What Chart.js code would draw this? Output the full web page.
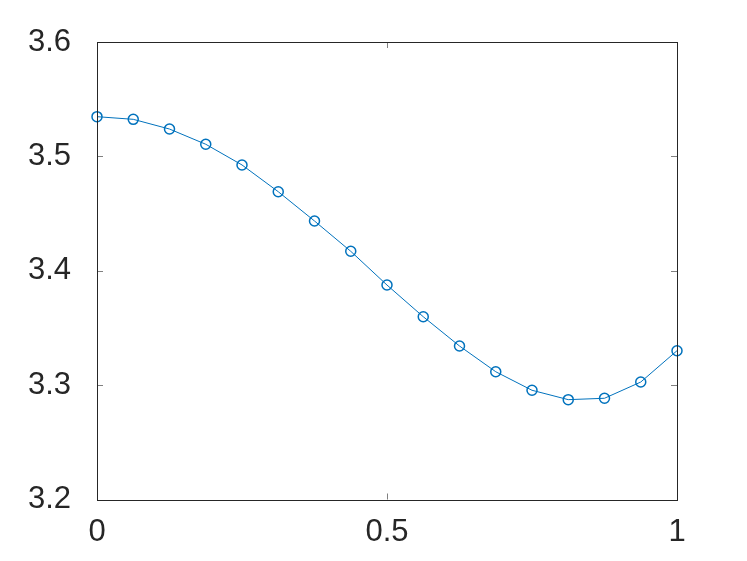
<!DOCTYPE html>
<html>
<head>
<meta charset="utf-8">
<script src="https://cdn.jsdelivr.net/npm/chart.js@4/dist/chart.umd.min.js"></script>
<style>
  html, body { margin: 0; padding: 0; background: #fff; }
  #wrap { width: 747px; height: 561px; }
</style>
</head>
<body>
<div id="wrap"><canvas id="chart" width="747" height="561"></canvas></div>
<script>
  /* datos: 17 puntos equiespaciados en [0, 1] */
  const xValues = [0, 0.0625, 0.125, 0.1875, 0.25, 0.3125, 0.375, 0.4375, 0.5,
                   0.5625, 0.625, 0.6875, 0.75, 0.8125, 0.875, 0.9375, 1];
  const yValues = [3.5347, 3.5324, 3.5239, 3.5106, 3.4925, 3.4691, 3.4435, 3.4170, 3.3875,
                   3.3598, 3.3342, 3.3117, 3.2955, 3.2873, 3.2885, 3.3027, 3.3301];
  const xTicks = [0, 0.5, 1];
  const yTicks = [3.2, 3.3, 3.4, 3.5, 3.6];

  const AXIS = '#262626';
  const BLUE = '#0072BD';
  const FONT = { family: "'Liberation Sans', Arial, sans-serif", size: 31 };

  /* Marco completo + ticks hacia dentro (estilo MATLAB) */
  const boxPlugin = {
    id: 'box',
    afterDraw(chart) {
      const { ctx, chartArea: a, scales: { x, y } } = chart;
      const tl = 6;
      ctx.save();
      ctx.lineWidth = 1;
      ctx.strokeStyle = '#808080';
      ctx.beginPath();
      xTicks.forEach(v => {
        const px = Math.round(x.getPixelForValue(v)) + 0.5;
        ctx.moveTo(px, a.bottom); ctx.lineTo(px, a.bottom - tl);
        ctx.moveTo(px, a.top);    ctx.lineTo(px, a.top + tl);
      });
      yTicks.forEach(v => {
        const py = Math.round(y.getPixelForValue(v)) + 0.5;
        ctx.moveTo(a.left, py);  ctx.lineTo(a.left + tl, py);
        ctx.moveTo(a.right, py); ctx.lineTo(a.right - tl, py);
      });
      ctx.stroke();
      ctx.strokeStyle = AXIS;
      ctx.strokeRect(Math.round(a.left) + 0.5, Math.round(a.top) + 0.5,
                     Math.round(a.right - a.left), Math.round(a.bottom - a.top));
      ctx.restore();
    }
  };

  new Chart(document.getElementById('chart').getContext('2d'), {
    type: 'line',
    data: {
      datasets: [{
        data: xValues.map((v, i) => ({ x: v, y: yValues[i] })),
        borderColor: BLUE,
        borderWidth: 1,
        pointStyle: 'circle',
        pointRadius: 5,
        pointBorderWidth: 1.5,
        pointBorderColor: BLUE,
        pointBackgroundColor: 'rgba(0,0,0,0)',
        tension: 0,
        clip: false,
      }],
    },
    options: {
      responsive: false,
      animation: false,
      events: [],
      layout: { padding: { left: 0, right: 70, top: 42, bottom: 0 } },
      plugins: { legend: { display: false }, tooltip: { enabled: false } },
      scales: {
        x: {
          type: 'linear',
          min: 0, max: 1,
          afterFit: s => { s.height = 61.5; },
          afterBuildTicks: s => { s.ticks = xTicks.map(v => ({ value: v })); },
          grid: { display: false },
          border: { display: false },
          ticks: {
            color: AXIS,
            padding: 6,
            maxRotation: 0,
            font: FONT,
            callback: v => String(v),
          },
        },
        y: {
          type: 'linear',
          min: 3.2, max: 3.6,
          afterFit: s => { s.width = 97; },
          afterBuildTicks: s => { s.ticks = yTicks.map(v => ({ value: v })); },
          grid: { display: false },
          border: { display: false },
          ticks: {
            color: AXIS,
            padding: 18,
            font: FONT,
            callback: v => v.toFixed(1),
          },
        },
      },
    },
    plugins: [boxPlugin],
  });
</script>
</body>
</html>
